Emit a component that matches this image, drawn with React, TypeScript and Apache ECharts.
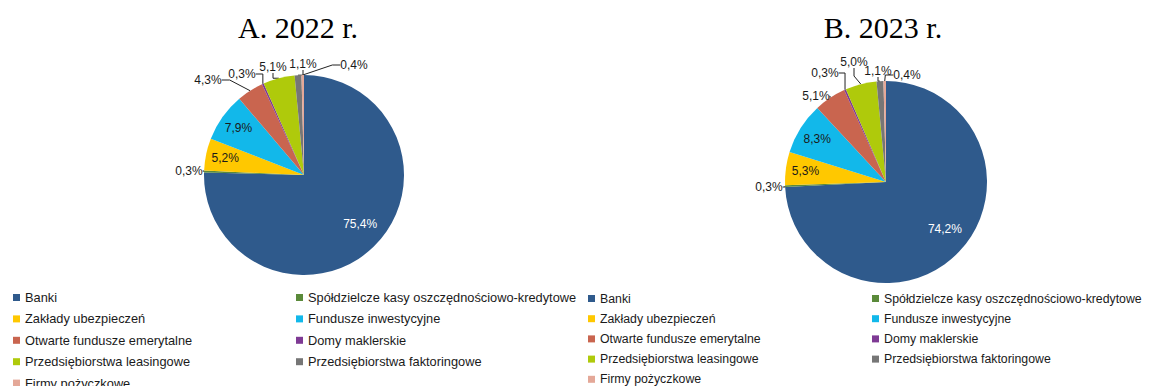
import React, { useEffect, useRef } from "react";
import * as echarts from "echarts";

const categories = [
  "Banki",
  "Spółdzielcze kasy oszczędnościowo-kredytowe",
  "Zakłady ubezpieczeń",
  "Fundusze inwestycyjne",
  "Otwarte fundusze emerytalne",
  "Domy maklerskie",
  "Przedsiębiorstwa leasingowe",
  "Przedsiębiorstwa faktoringowe",
  "Firmy pożyczkowe",
];
const values2022 = [75.4, 0.3, 5.2, 7.9, 4.3, 0.3, 5.1, 1.1, 0.4];
const values2023 = [74.2, 0.3, 5.3, 8.3, 5.1, 0.3, 5.0, 1.1, 0.4];
const colors = [
  "#2F5A8C",
  "#5A8A3A",
  "#FFC800",
  "#12B8EA",
  "#C9654F",
  "#7E3A94",
  "#AFCA0B",
  "#767676",
  "#E4A898",
];
const insideNames = ["Banki", "Zakłady ubezpieczeń", "Fundusze inwestycyjne"];
const legendCol1 = [categories[0], categories[2], categories[4], categories[6], categories[8]];
const legendCol2 = [categories[1], categories[3], categories[5], categories[7]];
const titles = ["A. 2022 r.", "B. 2023 r."];

// label placement (offset of label centre from the pie centre), layout only
const labelOffsets2022: ([number, number] | null)[] = [
  null, [-115, -4], null, null, [-96, -95], [-62, -101], [-31, -108], [-1, -111], [50, -110],
];
const labelOffsets2023: ([number, number] | null)[] = [
  null, [-117, 5], null, null, [-70, -86], [-61, -109], [-32, -120], [-8, -111], [21, -107],
];

const fmt = (v: number) => v.toFixed(1).replace(".", ",") + "%";

export default function App() {
  const ref = useRef<HTMLDivElement>(null);
  useEffect(() => {
    const chart = echarts.init(ref.current!, null, { renderer: "svg" });
    const font = "'Liberation Sans', Arial, sans-serif";
    const mkMain = (
      vals: number[],
      center: [number, number],
      r: number,
      offsets: ([number, number] | null)[]
    ) => ({
      type: "pie",
      center,
      radius: r,
      startAngle: 90,
      clockwise: true,
      avoidLabelOverlap: false,
      silent: true,
      emphasis: { disabled: true },
      itemStyle: { borderWidth: 0 },
      labelLine: { show: true, length: 6, length2: 8, lineStyle: { color: "#222", width: 1 } },
      label: {
        show: true,
        position: "outside",
        formatter: (p: any) => fmt(p.value),
        color: "#1a1a1a",
        fontSize: 12,
        fontFamily: font,
      },
      labelLayout: (p: any) => {
        const off = offsets[p.dataIndex];
        if (!off) return {};
        return {
          x: center[0] + off[0],
          y: center[1] + off[1],
          align: "center",
          verticalAlign: "middle",
        };
      },
      data: categories.map((name, i) => ({
        name,
        value: vals[i],
        itemStyle: { color: colors[i] },
        label: insideNames.includes(name) ? { show: false } : undefined,
        labelLine: insideNames.includes(name) ? { show: false } : undefined,
      })),
    });
    const mkInner = (vals: number[], center: [number, number], r: number) => ({
      type: "pie",
      center,
      radius: [r * 0.55, r],
      startAngle: 90,
      clockwise: true,
      silent: true,
      emphasis: { disabled: true },
      itemStyle: { color: "transparent", borderWidth: 0 },
      labelLine: { show: false },
      label: {
        show: true,
        position: "inside",
        formatter: (p: any) => fmt(p.value),
        color: "#1a1a1a",
        fontSize: 12,
        fontFamily: font,
      },
      labelLayout: (p: any) => (p.dataIndex === 0 ? { dy: -9 } : {}),
      data: categories.map((name, i) => ({
        name,
        value: vals[i],
        label: insideNames.includes(name)
          ? { show: true, color: name === "Banki" ? "#ffffff" : "#1a1a1a" }
          : { show: false },
      })),
    });
    const legendBase = {
      orient: "vertical",
      icon: "rect",
      itemWidth: 7,
      itemHeight: 7,
      itemGap: 8.4,
      itemTextGap: 1.5,
      padding: 0,
      height: 130,
      selectedMode: false,
      textStyle: { fontSize: 12.8, fontFamily: font, color: "#1a1a1a" },
    };
    const legendRight = {
      ...legendBase,
      itemGap: 8.2,
      textStyle: { fontSize: 12.3, fontFamily: font, color: "#1a1a1a" },
    };
    const titleStyle = {
      fontFamily: "'Liberation Serif', serif",
      fontSize: 30,
      fontWeight: "normal",
      color: "#000",
    };
    chart.setOption({
      animation: false,
      backgroundColor: "#ffffff",
      title: [
        { text: titles[0], left: 293, top: 7, textAlign: "center", textStyle: titleStyle },
        { text: titles[1], left: 878, top: 7, textAlign: "center", textStyle: titleStyle },
      ],
      legend: [
        { ...legendBase, left: 13, top: 291, data: legendCol1 },
        { ...legendBase, left: 296, top: 291, data: legendCol2 },
        { ...legendRight, left: 588, top: 292.5, data: legendCol1 },
        { ...legendRight, left: 872, top: 292.5, data: legendCol2 },
      ],
      series: [
        mkMain(values2022, [304, 175], 100, labelOffsets2022),
        mkMain(values2023, [886, 182], 101, labelOffsets2023),
        mkInner(values2022, [304, 175], 100),
        mkInner(values2023, [886, 182], 101),
      ],
    });
    return () => chart.dispose();
  }, []);
  return (
    <div
      ref={ref}
      style={{ position: "fixed", left: 0, top: 0, width: 1149, height: 386, background: "#fff" }}
    />
  );
}
